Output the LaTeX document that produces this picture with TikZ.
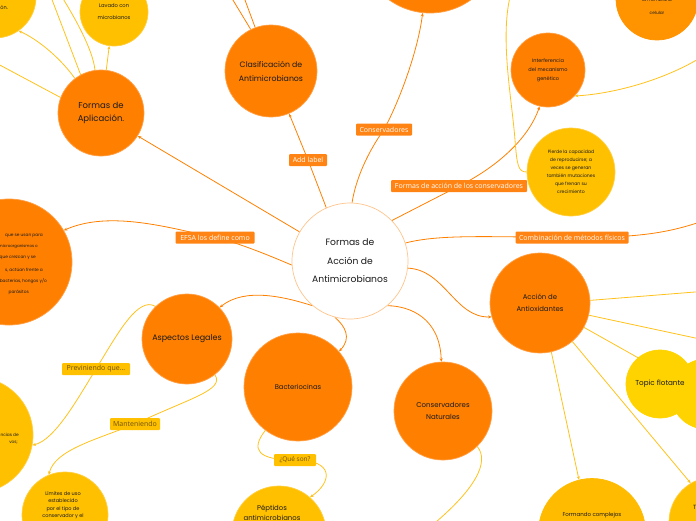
\documentclass[tikz,border=0pt]{standalone}
\usepackage{fontspec}
\setmainfont{Open Sans}
\newfontfamily\hand{Poppins}
\usetikzlibrary{arrows.meta}
\definecolor{org}{HTML}{FF7F00}
\definecolor{orgbd}{HTML}{FF9F45}
\definecolor{orgl}{HTML}{FF9400}
\definecolor{cbd}{HTML}{FFC48C}
\definecolor{yel}{HTML}{FFC000}
\definecolor{yelbd}{HTML}{FFCE40}
\definecolor{yel2}{HTML}{FFD300}
\definecolor{yel3}{HTML}{FFBB00}
\definecolor{lab}{HTML}{FF8414}
\definecolor{ytxt}{HTML}{6E5200}
\definecolor{lor}{HTML}{FF8000}
\definecolor{lye}{HTML}{FFC21A}
\definecolor{ink}{HTML}{1A1A1A}
\newcommand\myfs[2]{\fontsize{#1}{#2}\selectfont}
\pgfdeclarelayer{bg}
\pgfsetlayers{bg,main}
\begin{document}
\begin{tikzpicture}[x=1pt,y=-1pt,
  circ/.style={circle,inner sep=0pt,minimum size=#1,align=center,text=ink,line width=0.7pt},
  oc/.style={circ=#1,fill=org,draw=orgbd},
  yc/.style={circ=#1,fill=yel,draw=yelbd},
  txt/.style={inner sep=0pt,align=center,text=ink},
  olab/.style={fill=lab,text=white,inner xsep=2pt,inner ysep=0pt,minimum height=12pt,rounded corners=1pt,font=\myfs{7}{8}},
  ylab/.style={fill=yel,text=ytxt,inner xsep=2pt,inner ysep=0pt,minimum height=12pt,rounded corners=1pt,font=\myfs{7}{8}},
  ol/.style={draw=lor,line width=0.8pt},
  yl/.style={draw=lye,line width=0.8pt},
  arr/.style={-{Stealth[length=3.5pt,width=3pt]}}
]
\useasboundingbox (0,0) rectangle (696,520);

% ---- circles ----
\node[circ=116pt,fill=white,draw=cbd,font={\hand\myfs{9.2}{18.5}}] (central) at (350,261) {Formas de\\Acción de\\Antimicrobianos};
\node[oc=86pt,font={\hand\myfs{8.5}{13}}] (apl) at (101,113) {Formas de\\Aplicación.};
\node[oc=92pt,font={\hand\myfs{7.8}{14}}] (clas) at (271,71) {Clasificación de\\Antimicrobianos};
\node[oc=140pt] (topc) at (430,-57) {};
\node[circ=82pt,fill=orgl,draw=orgl] (memb) at (657,-1) {};
\node[txt,font={\hand\myfs{4.3}{13}}] (membt) at (657,6.5) {la membrana\\celular};
\node[oc=74pt,font={\hand\myfs{5}{9}}] (interf) at (548,70) {Interferencia\\del mecanismo\\genético};
\node[yc=88pt,font={\hand\myfs{4.6}{8}}] (pierde) at (571,172) {Pierde la capacidad\\de reproducirse; a\\veces se generan\\también mutaciones\\que frenan su\\crecimiento};
\node[oc=126pt] (efsac) at (9,262) {};
\node[txt,anchor=east,font={\hand\myfs{4.3}{5}}] (e1) at (43,236) {que se usan para};
\node[txt,anchor=east,font={\hand\myfs{4}{5}}] (e2) at (38,247) {microorganismos o};
\node[txt,anchor=east,font={\hand\myfs{4.3}{5}}] (e3) at (36,258) {que crezcan y se};
\node[txt,anchor=east,font={\hand\myfs{4.3}{5}}] (e4) at (43,270) {s, actúan frente a};
\node[txt,anchor=east,font={\hand\myfs{4.3}{5}}] (e5) at (47,281) {bacterias, hongos y/o};
\node[txt,anchor=east,font={\hand\myfs{4.3}{5}}] (e6) at (29,292) {parásitos};
\node[oc=90pt,font={\hand\myfs{8}{9}}] (asp) at (187,339) {Aspectos Legales};
\node[oc=108pt,font={\hand\myfs{6.8}{8}}] (bact) at (298,387) {Bacteriocinas};
\node[oc=98pt,font={\hand\myfs{7}{12}}] (consnat) at (443,411) {Conservadores\\Naturales};
\node[oc=100pt,font={\hand\myfs{6.9}{12}}] (antiox) at (540,303) {Acción de\\Antioxidantes};
\node[circ=70pt,fill=yel2,draw=yel2] (topic2) at (706,394) {};
\node[circ=68pt,fill=yel2,draw=yel2,font={\hand\myfs{7.2}{8}}] (topic) at (660,384) {Topic flotante};
\node[circ=107pt,fill=yel3,draw=yel3] (form) at (592,532) {};
\node[txt,font={\hand\myfs{5.5}{7}}] (formt) at (592,515) {Formando complejos};
\node[yc=90pt] (br) at (714,522) {};
\node[txt,anchor=west,font={\hand\myfs{6}{7}}] (brt) at (693,507) {T};
\node[yc=94pt] (pep) at (279,533) {};
\node[txt,font={\hand\myfs{6.9}{10}}] (pept) at (272,512.5) {Péptidos\\antimicrobianos};
\node[yc=86pt] (lim) at (65,515) {};
\node[txt,font={\hand\myfs{5}{7.5}}] (limt) at (63,505) {Límites de uso\\establecido\\por el tipo de\\conservador y el};
\node[yc=116pt] (lefty) at (-25,435) {};
\node[txt,anchor=east,font={\hand\myfs{4.3}{5}}] (l1) at (19,435) {ncias de};
\node[txt,anchor=east,font={\hand\myfs{4.3}{5}}] (l2) at (18,443) {vos;};
\node[yc=82pt] (tl) at (-5,-3) {};
\node[txt,anchor=east,font={\hand\myfs{5}{6}}] (tlt) at (8,8) {ón.};
\node[yc=68pt,font={\hand\myfs{5.2}{12}}] (lav) at (114,12) {Lavado con\\microbianos};

% ---- labels ----
\node[olab,minimum width=38pt] (addl) at (308,160) {Add label};
\node[olab,minimum width=56pt] (consl) at (384,129.5) {Conservadores};
\node[olab,minimum width=136pt] (facl) at (459,186) {Formas de acción de los conservadores};
\node[olab,minimum width=79pt] (efsal) at (215,237.5) {EFSA los define como};
\node[olab,minimum width=113pt] (combl) at (572,237.5) {Combinación de métodos físicos};
\node[ylab,minimum width=68pt] (prevl) at (96,369) {Previniendo que...};
\node[ylab,minimum width=50pt] (mantl) at (135,424) {Manteniendo};
\node[ylab,minimum width=42pt,font=\myfs{6.5}{8}] (qsl) at (295,460) {¿Qué son?};

% free ends
\coordinate (cu1) at (230.5,-4);
\coordinate (cu2) at (243.5,-4);
\coordinate (c1) at (700,222);
\coordinate (a1) at (-4,63);
\coordinate (a2) at (51,-3);
\coordinate (a3) at (62,-3);
\coordinate (i1) at (700,58);
\coordinate (i2) at (510,-3);
\coordinate (i3) at (515,140);
\coordinate (x1) at (700,291.6);
\coordinate (x2) at (700,339);
\coordinate (n1) at (430,527);

\begin{pgfonlayer}{bg}
% orange connectors
\draw[ol,arr] (central.150) -- (apl.-32);
\draw[ol,arr] (central.114) -- (addl.center) -- (clas.-67);
\draw[ol,arr] (central.88) .. controls (356,178) and (368,152) .. (consl.center) .. controls (400,100) and (418,50) .. (topc.-96);
\draw[ol,arr] (central.44) -- (facl.center) .. controls (495,168) and (528,140) .. (interf.-103);
\draw[ol] (central.18) .. controls (440,234) and (490,237) .. (combl.center) .. controls (640,238) and (670,232) .. (c1);
\draw[ol,arr] (central.184) .. controls (275,258) and (240,243) .. (efsal.center) .. controls (170,228) and (110,210) .. (efsac.30);
\draw[ol,arr] (central.230) .. controls (285,297) and (245,287) .. (asp.44);
\draw[ol,arr] (central.255) .. controls (345,326) and (352,338) .. (bact.41);
\draw[ol,arr] (central.310) .. controls (410,306) and (440,318) .. (consnat.92);
\draw[ol,arr] (central.-7) .. controls (445,270) and (455,318) .. (antiox.196);
\draw[ol] (clas.116) -- (cu1);
\draw[ol] (clas.110) -- (cu2);
% yellow connectors
\draw[yl,arr] (apl.83) -- (lav.-98);
\draw[yl,arr] (apl.127) .. controls (58,55) and (35,38) .. (tl.-55);
\draw[yl] (apl.159) -- (a1);
\draw[yl] (apl.118) -- (a2);
\draw[yl] (apl.98) .. controls (93,50) and (75,18) .. (a3);
\draw[yl,arr] (i1) .. controls (660,82) and (610,94) .. (interf.-44);
\draw[yl] (i2) .. controls (500,40) and (512,100) .. (i3) .. controls (517,165) and (518,172) .. (pierde.180);
\draw[yl] (antiox.3) -- (x1);
\draw[yl] (antiox.-14) -- (x2);
\draw[yl] (antiox.-29) -- (topic.130);
\draw[yl,arr] (antiox.-50) -- (br.121);
\draw[yl,arr] (antiox.-77) -- (form.104);
\draw[yl] (consnat.-46) .. controls (490,462) and (475,490) .. (n1);
\draw[yl,arr] (bact.233) .. controls (250,450) and (258,460) .. (qsl.center) .. controls (335,460) and (332,482) .. (pep.49);
\draw[yl,arr] (asp.134) .. controls (138,296) and (118,333) .. (prevl.center) .. controls (78,398) and (55,440) .. (lefty.-10);
\draw[yl,arr] (asp.-52) .. controls (225,390) and (190,398) .. (mantl.center) .. controls (95,440) and (55,450) .. (lim.112);
\end{pgfonlayer}
\end{tikzpicture}
\end{document}
